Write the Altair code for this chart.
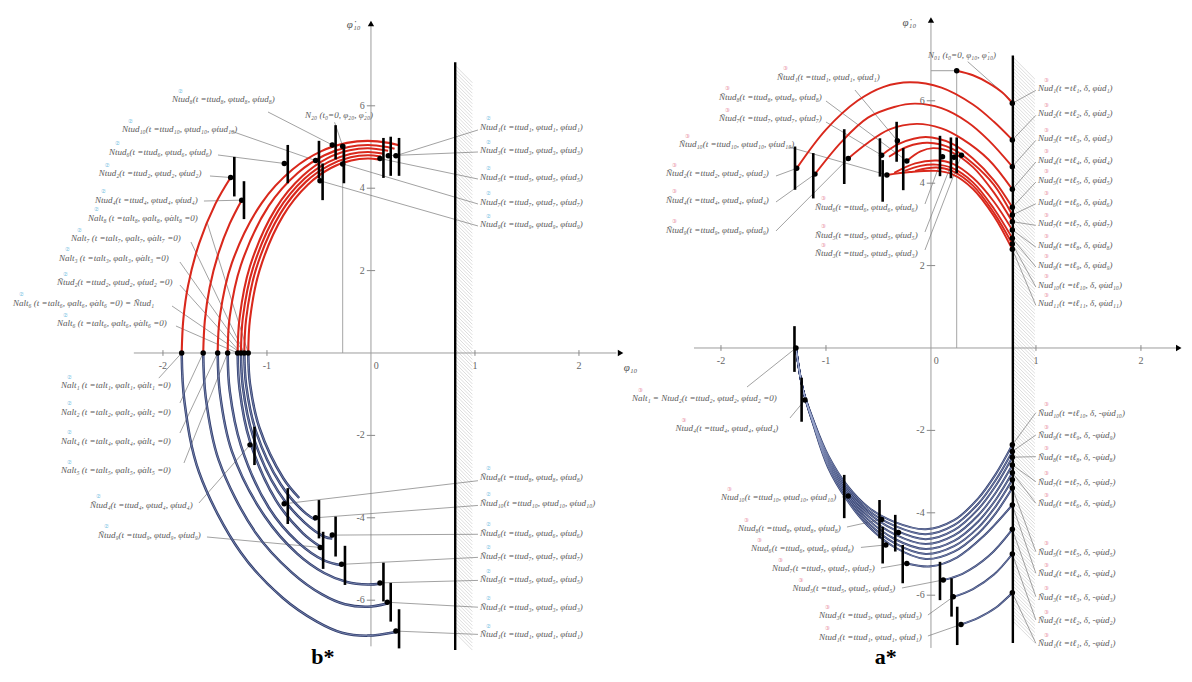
import altair as alt
import numpy as np
import pandas as pd

# ---------------- frames (data units of each panel) ----------------
L_XDOM = [-3.490, 2.683]
L_YDOM = [-7.743, 8.374]
R_XDOM = [-2.676, 2.410]
R_YDOM = [-7.864, 8.252]

FONT = "Liberation Serif"
RED = "#d9281c"
BLUE_D = "#2f3c6c"
BLUE_L = "#a3afd3"
LAB_COL = "#5a5a5a"

SUBS = str.maketrans("0123456789", "₀₁₂₃₄₅₆₇₈₉")
PHI = "φ"
PHID = "φ\u0307"


def sb(k):
    return str(k).translate(SUBS)


def tud(N, k, zero=False):
    s = sb(k)
    z = " =0" if zero else ""
    return f"{N}tud{s}(t =ttud{s}, {PHI}tud{s}, {PHID}tud{s}{z})"


def alt_lab(k, tail=""):
    s = sb(k)
    return f"Nalt{s} (t =talt{s}, {PHI}alt{s}, {PHID}alt{s} =0){tail}"


def ud_up(k):
    s = sb(k)
    return f"Nud{s}(t =tℓ{s}, δ, {PHID}ud{s})"


def ud_dn(k):
    s = sb(k)
    return f"Ñud{s}(t =tℓ{s}, δ, -{PHID}ud{s})"


# ================= LEFT PANEL (b*) =================
L_RED = [
    [(-1.82, 0), (-1.804, 0.82), (-1.759, 1.63), (-1.652, 2.66), (-1.496, 3.62), (-1.349, 4.26)],
    [(-1.613, 0), (-1.597, 0.80), (-1.551, 1.59), (-1.464, 2.44), (-1.358, 3.14), (-1.243, 3.71)],
    [(-1.474, 0), (-1.452, 0.90), (-1.338, 2.18), (-1.051, 3.64), (-0.752, 4.46), (-0.476, 4.90),
     (-0.231, 5.10), (-0.03, 5.15), (0.171, 5.10), (0.27, 5.04)],
    [(-1.378, 0), (-1.358, 0.88), (-1.251, 2.13), (-0.983, 3.57), (-0.704, 4.37), (-0.447, 4.80),
     (-0.217, 5.00), (-0.03, 5.05), (0.157, 5.00), (0.227, 4.96)],
    [(-1.282, 0), (-1.263, 0.86), (-1.164, 2.10), (-0.915, 3.51), (-0.656, 4.30), (-0.417, 4.73),
     (-0.204, 4.92), (-0.03, 4.97), (0.165, 4.91)],
    [(-1.25, 0), (-1.232, 0.85), (-1.135, 2.06), (-0.893, 3.45), (-0.64, 4.23), (-0.407, 4.64),
     (-0.2, 4.83), (-0.03, 4.88), (0.119, 4.84)],
    [(-1.218, 0), (-1.2, 0.83), (-1.106, 2.03), (-0.87, 3.39), (-0.624, 4.16), (-0.397, 4.56),
     (-0.195, 4.75), (-0.03, 4.80), (0.095, 4.77)],
    [(-1.18, 0), (-1.163, 0.82), (-1.072, 2.0), (-0.843, 3.34), (-0.605, 4.09), (-0.385, 4.49),
     (-0.19, 4.67), (-0.03, 4.72), (0.07, 4.70)],
]
L_BLUE = [
    [(-1.82, 0), (-1.793, -1.19), (-1.652, -2.90), (-1.25, -4.85), (-0.85, -5.94), (-0.52, -6.52),
     (-0.279, -6.79), (-0.03, -6.86), (0.24, -6.77)],
    [(-1.613, 0), (-1.589, -1.07), (-1.464, -2.60), (-1.11, -4.36), (-0.76, -5.33), (-0.47, -5.86),
     (-0.25, -6.10), (-0.03, -6.16), (0.157, -6.08)],
    [(-1.474, 0), (-1.452, -0.98), (-1.338, -2.38), (-1.02, -3.97), (-0.71, -4.87), (-0.45, -5.34),
     (-0.231, -5.56), (-0.03, -5.62), (0.087, -5.60)],
    [(-1.378, 0), (-1.358, -0.92), (-1.251, -2.24), (-0.983, -3.75), (-0.704, -4.59), (-0.447, -5.04),
     (-0.282, -5.15)],
    [(-1.282, 0), (-1.263, -0.88), (-1.164, -2.14), (-0.915, -3.57), (-0.656, -4.37), (-0.487, -4.70)],
    [(-1.25, 0), (-1.232, -0.82), (-1.135, -2.01), (-0.893, -3.36), (-0.64, -4.11), (-0.447, -4.46),
     (-0.372, -4.50)],
    [(-1.218, 0), (-1.2, -0.78), (-1.106, -1.90), (-0.87, -3.18), (-0.624, -3.90), (-0.532, -4.05)],
    [(-1.18, 0), (-1.163, -0.75), (-1.072, -1.82), (-0.843, -3.04), (-0.69, -3.52)],
]
L_DOTS = [
    (-1.349, 4.26), (-1.243, 3.71), (-0.833, 4.60), (-0.532, 4.67), (-0.49, 4.18), (-0.372, 5.05),
    (-0.272, 5.02), (-0.272, 4.59), (0.087, 4.72), (0.167, 4.79), (0.24, 4.79),
    (-1.82, 0), (-1.613, 0), (-1.474, 0), (-1.378, 0), (-1.282, 0), (-1.25, 0), (-1.218, 0), (-1.18, 0),
    (-1.163, -2.23), (-0.834, -3.66), (-0.532, -4.0), (-0.372, -4.42), (-0.487, -4.72), (-0.282, -5.13),
    (0.087, -5.58), (0.157, -6.05), (0.24, -6.75),
]
L_BARS = [
    (-1.314, 4.76, 3.80), (-1.221, 4.17, 3.25), (-0.80, 5.05, 4.12), (-0.50, 5.15, 4.24),
    (-0.465, 4.60, 3.71), (-0.34, 5.53, 4.70), (-0.26, 5.05, 4.12), (0.12, 5.22, 4.25),
    (0.19, 5.25, 4.30), (0.27, 5.22, 4.30),
    (-1.12, -1.79, -2.72), (-0.80, -3.28, -4.15), (-0.50, -3.57, -4.50), (-0.34, -3.97, -4.94),
    (-0.46, -4.34, -5.24), (-0.25, -4.68, -5.63), (0.12, -5.09, -6.03), (0.19, -5.58, -6.52),
    (0.27, -6.22, -7.17),
]
L_LABELS = [
    (-1.913, 6.165, tud("N", 8), True),
    (-0.635, 5.777, "N₂₀ (t₀=0, φ₂₀, φ\u0307₂₀)", False),
    (-2.394, 5.437, tud("N", 10), True),
    (-2.519, 4.886, tud("N", 6), True),
    (-2.618, 4.36, tud("N", 2), True),
    (-2.654, 3.714, tud("N", 4), True),
    (-2.721, 3.277, alt_lab(8), True),
    (-2.885, 2.791, alt_lab(7), True),
    (-3.0, 2.306, alt_lab(3), True),
    (-3.019, 1.723, tud("Ñ", 2, zero=True), True),
    (-3.442, 1.214, alt_lab(6, " = Ñtud₁"), True),
    (-3.019, 0.728, alt_lab(6), True),
    (-2.981, -0.777, alt_lab(1), True),
    (-2.981, -1.425, alt_lab(2), True),
    (-2.981, -2.136, alt_lab(4), True),
    (-2.981, -2.84, alt_lab(5), True),
    (-2.702, -3.689, tud("Ñ", 4), True),
    (-2.625, -4.417, tud("Ñ", 9), True),
    (1.048, 5.493, tud("N", 1), True),
    (1.048, 4.927, tud("N", 3), True),
    (1.048, 4.279, tud("N", 5), True),
    (1.048, 3.672, tud("N", 7), True),
    (1.048, 3.124, tud("N", 9), True),
    (1.048, -3.002, tud("Ñ", 8), True),
    (1.048, -3.633, tud("Ñ", 10), True),
    (1.048, -4.362, tud("Ñ", 6), True),
    (1.048, -4.927, tud("Ñ", 7), True),
    (1.048, -5.493, tud("Ñ", 5), True),
    (1.048, -6.158, tud("Ñ", 3), True),
    (1.048, -6.828, tud("Ñ", 1), True),
]
L_LEADERS = [
    (-0.99, 5.85, -0.372, 5.05), (-0.35, 5.6, -0.272, 5.02), (-1.346, 5.388, -0.532, 4.67),
    (-1.471, 4.806, -0.833, 4.60), (-1.548, 4.296, -1.349, 4.26), (-1.606, 3.689, -1.243, 3.71),
    (-1.577, 3.18, -1.18, 0), (-1.731, 2.694, -1.218, 0), (-1.837, 2.209, -1.218, 0),
    (-1.837, 1.65, -1.25, 0), (-1.913, 1.141, -1.25, 0), (-1.875, 0.655, -1.282, 0),
    (-2.04, -0.61, -1.82, 0), (-1.837, -1.214, -1.613, 0), (-1.837, -1.942, -1.474, 0),
    (-1.798, -2.67, -1.378, 0), (-1.654, -3.641, -1.163, -2.23), (-1.577, -4.466, -0.487, -4.72),
    (1.029, 5.413, 0.24, 4.79), (1.029, 4.879, 0.167, 4.79), (1.029, 4.223, 0.087, 4.72),
    (1.029, 3.617, -0.272, 4.59), (1.029, 3.083, -0.49, 4.18),
    (1.029, -3.10, -0.834, -3.66), (1.029, -3.70, -0.532, -4.0), (1.029, -4.40, -0.372, -4.42),
    (1.029, -4.96, -0.282, -5.13), (1.029, -5.52, 0.087, -5.58), (1.029, -6.17, 0.157, -6.05),
    (1.029, -6.83, 0.24, -6.75),
]
L_WALL = (0.81, -7.21, 7.06)
L_HATCH_X = (0.81, 0.975)
L_AXES = [(-2.28, 0, 2.36, 0), (0, -7.12, 0, 7.95)]
L_PROJ = [(-0.272, 5.02, -0.272, 0)]
L_ARROW_R = [(2.40, 0)]
L_ARROW_U = [(0, 8.0)]
L_AXTITLE_R = [(-0.1, 7.95, "φ\u0307₁₀")]
L_AXTITLE_L = [(2.43, -0.22, "φ₁₀")]
L_TITLE = [(-0.462, -7.67, "b*")]
L_RING = "②"

# ================= RIGHT PANEL (a*) =================
R_RED = [
    [(0.245, 6.73), (0.40, 6.62), (0.55, 6.43), (0.68, 6.2), (0.775, 5.94)],
    [(-1.279, 4.36), (-1.0, 5.30), (-0.7, 6.0), (-0.45, 6.34), (-0.2, 6.45), (0.1, 6.32), (0.4, 5.91),
     (0.6, 5.49), (0.775, 5.05)],
    [(-1.105, 4.22), (-0.85, 5.01), (-0.6, 5.59), (-0.35, 5.85), (-0.15, 5.93), (0.1, 5.82), (0.35, 5.48),
     (0.55, 5.04), (0.775, 4.40)],
    [(-0.788, 4.60), (-0.6, 4.98), (-0.4, 5.30), (-0.136, 5.44), (0.1, 5.33), (0.3, 5.07), (0.55, 4.57),
     (0.775, 3.85)],
    [(-0.47, 4.68), (-0.3, 4.96), (-0.05, 5.12), (0.2, 4.96), (0.4, 4.60), (0.6, 4.07), (0.775, 3.415)],
    [(-0.40, 4.64), (-0.22, 4.89), (-0.03, 4.98), (0.2, 4.84), (0.4, 4.48), (0.6, 3.96), (0.775, 3.228)],
    [(-0.23, 4.54), (-0.1, 4.77), (0.02, 4.85), (0.2, 4.75), (0.4, 4.39), (0.6, 3.77), (0.775, 3.066)],
    [(-0.35, 4.25), (-0.15, 4.48), (0.05, 4.55), (0.2, 4.48), (0.4, 4.13), (0.6, 3.55), (0.775, 2.864)],
    [(-0.25, 4.30), (-0.1, 4.42), (0.05, 4.45), (0.2, 4.37), (0.4, 4.02), (0.6, 3.38), (0.775, 2.663)],
    [(-0.15, 4.30), (0.05, 4.38), (0.2, 4.30), (0.4, 3.94), (0.6, 3.28), (0.775, 2.524)],
    [(-0.42, 4.20), (-0.2, 4.27), (0.05, 4.30), (0.2, 4.22), (0.4, 3.86), (0.6, 3.20), (0.775, 2.396)],
]
R_BUNDLE_X = [-1.286, -1.22, -1.12, -0.98, -0.8, -0.6, -0.35, -0.05, 0.22, 0.45, 0.62, 0.775]
R_BUNDLE_Y = [
    [0, -1.0, -1.75, -2.60, -3.33, -3.86, -4.22, -4.40, -4.18, -3.65, -3.05, -2.35],
    [0, -1.0, -1.77, -2.65, -3.38, -3.93, -4.31, -4.52, -4.30, -3.78, -3.19, -2.51],
    [0, -1.0, -1.79, -2.70, -3.44, -4.00, -4.41, -4.64, -4.42, -3.91, -3.33, -2.65],
    [0, -1.0, -1.81, -2.75, -3.50, -4.08, -4.52, -4.76, -4.55, -4.06, -3.50, -2.84],
    [0, -1.0, -1.83, -2.80, -3.56, -4.16, -4.63, -4.88, -4.68, -4.21, -3.67, -3.03],
    [0, -1.0, -1.85, -2.85, -3.62, -4.24, -4.73, -5.00, -4.81, -4.36, -3.83, -3.20],
    [0, -1.0, -1.87, -2.90, -3.69, -4.32, -4.83, -5.12, -4.94, -4.50, -4.00, -3.40],
]
R_LOWER = [
    [(-0.23, -5.23), (0.0, -5.30), (0.25, -5.08), (0.5, -4.57), (0.775, -3.81)],
    [(0.117, -5.63), (0.3, -5.48), (0.55, -5.05), (0.775, -4.40)],
    [(0.212, -6.04), (0.4, -5.85), (0.6, -5.5), (0.775, -5.0)],
    [(0.286, -6.71), (0.45, -6.55), (0.62, -6.3), (0.775, -5.94)],
]
R_WALL_RED_Y = [5.939, 5.049, 4.401, 3.852, 3.415, 3.228, 3.066, 2.864, 2.663, 2.524, 2.396]
R_WALL_BLUE_Y = [-2.35, -2.51, -2.65, -2.84, -3.03, -3.20, -3.40, -3.81, -4.40, -5.0, -5.94]
R_DOTS = [
    (0.245, 6.73),
    (-1.279, 4.36), (-1.105, 4.22), (-0.788, 4.60), (-0.47, 4.68), (-0.42, 4.20), (-0.32, 5.03),
    (-0.23, 4.54), (0.11, 4.64), (0.22, 4.63), (0.29, 4.68),
    (-1.286, 0),
    (-1.2, -1.26), (-0.788, -3.59), (-0.47, -4.16), (-0.31, -4.48), (-0.43, -4.78), (-0.23, -5.23),
    (0.117, -5.63), (0.212, -6.04), (0.286, -6.71),
]
R_BARS = [
    (-1.295, 4.89, 3.84), (-1.121, 4.73, 3.63), (-0.826, 5.31, 3.98), (-0.486, 5.09, 4.16),
    (-0.46, 4.56, 3.55), (-0.327, 5.49, 4.52), (-0.264, 4.85, 3.83), (0.086, 5.15, 4.17),
    (0.19, 5.11, 4.12), (0.245, 5.11, 4.24),
    (-1.30, 0.53, -0.58),
    (-1.232, -0.72, -1.79), (-0.826, -3.08, -4.13), (-0.49, -3.69, -4.62), (-0.34, -4.05, -4.94),
    (-0.46, -4.34, -5.23), (-0.269, -4.78, -5.71), (0.086, -5.19, -6.12), (0.196, -5.59, -6.52),
    (0.25, -6.28, -7.21),
]
R_WALL_UP_LAB_Y = [6.303, 5.697, 5.090, 4.563, 4.078, 3.551, 3.027, 2.5, 2.015, 1.529, 1.085]
R_WALL_DN_LAB_Y = [-1.570, -2.112, -2.638, -3.245, -3.769, -4.944, -5.468, -6.036, -6.602, -7.167]
R_WALL_DN_TARGET = [-2.35, -2.51, -2.65, -2.84, -3.03, -3.40, -3.81, -4.40, -5.0, -5.94]
R_LABELS = [
    (-0.029, 7.112, "N₀₁ (t₀=0, φ₁₀, φ\u0307₁₀)", False),
    (-1.467, 6.585, tud("Ñ", 1), True),
    (-2.019, 6.1, tud("Ñ", 8), True),
    (-2.019, 5.575, tud("Ñ", 7), True),
    (-2.4, 4.951, tud("Ñ", 10), True),
    (-2.524, 4.24, tud("Ñ", 2), True),
    (-2.524, 3.592, tud("Ñ", 4), True),
    (-2.524, 2.864, tud("Ñ", 9), True),
    (-1.105, 3.43, tud("Ñ", 6), True),
    (-1.105, 2.743, tud("Ñ", 5), True),
    (-1.105, 2.299, tud("Ñ", 3), True),
    (-2.848, -1.221, f"Nalt₁ = Ntud₂(t =ttud₂, {PHI}tud₂, {PHID}tud₂ =0)", True),
    (-2.433, -1.949, tud("N", 4), True),
    (-2.0, -3.624, tud("N", 10), True),
    (-1.838, -4.376, tud("N", 8), True),
    (-1.714, -4.862, tud("N", 6), True),
    (-1.514, -5.347, tud("N", 7), True),
    (-1.319, -5.833, tud("N", 5), True),
    (-1.067, -6.481, tud("N", 3), True),
    (-1.067, -7.007, tud("N", 1), True),
]
R_LEADERS = [
    (0.35, 6.95, 0.775, 5.99),
    (-0.724, 6.262, -0.32, 5.03), (-1.0, 5.995, -0.23, 4.54), (-1.0, 5.485, -0.47, 4.68),
    (-1.352, 4.879, -0.42, 4.20), (-1.476, 4.175, -1.279, 4.36), (-1.476, 3.544, -1.105, 4.22),
    (-1.476, 2.84, -0.788, 4.60), (-0.057, 3.495, 0.11, 4.64), (-0.057, 2.816, 0.22, 4.63),
    (-0.057, 2.379, 0.29, 4.68),
    (-1.752, -0.947, -1.286, 0), (-1.343, -1.699, -1.2, -1.26), (-0.848, -3.617, -0.788, -3.59),
    (-0.8, -4.345, -0.47, -4.16), (-0.667, -4.84, -0.43, -4.78), (-0.476, -5.34, -0.23, -5.23),
    (-0.276, -5.825, 0.117, -5.63), (-0.029, -6.481, 0.212, -6.04), (-0.029, -6.99, 0.286, -6.71),
]
R_WALL = (0.78, -7.16, 7.1)
R_HATCH_X = (0.78, 0.99)
R_WALL_X = 0.775
R_LABEL_X = 1.019
R_AXES = [(-2.257, 0, 2.35, 0), (0, -7.28, 0, 7.9), (0, 6.73, 0.245, 6.73)]
R_PROJ = [(0.245, 6.73, 0.245, 0)]
R_ARROW_R = [(2.36, 0)]
R_ARROW_U = [(0, 7.96)]
R_AXTITLE_R = [(-0.14, 7.9, "φ\u0307₁₀")]
R_TITLE = [(-0.43, -7.79, "a*")]
R_RING = "③"

XTICKS = [-2, -1, 0, 1, 2]
YTICKS = [-6, -4, -2, 2, 4, 6]


# ================= helpers =================
def curves_df(curves):
    rows = []
    for i, c in enumerate(curves):
        for j, (x, y) in enumerate(c):
            rows.append({"cid": i, "ord": j, "x": x, "y": y})
    return pd.DataFrame(rows)


def segs(rows):
    return pd.DataFrame(rows, columns=["x", "y", "x2", "y2"])


def hatch(xr, yb, yt, dy, step):
    ys = np.arange(yb + dy, yt + 1e-9, step)
    return segs([(xr[0], v, xr[1], v - dy) for v in ys])


def tick_rules(xt, yt, hx, hy):
    rows = [(t, -hy, t, hy) for t in xt if t != 0]
    rows += [(-hx, t, hx, t) for t in yt]
    return segs(rows)


def xtick_labels(xt, y0):
    return pd.DataFrame([(t + (0.05 if t == 0 else 0), y0, str(t)) for t in xt], columns=["x", "y", "t"])


def ytick_labels(yt, x0):
    return pd.DataFrame([(x0, t, str(t)) for t in yt], columns=["x", "y", "t"])


def texts(rows):
    return pd.DataFrame(rows, columns=["x", "y", "t"])


def panel(P, W, H, ring_col):
    xs = alt.Scale(domain=P["xdom"], nice=False, zero=False)
    ys = alt.Scale(domain=P["ydom"], nice=False, zero=False)
    X = alt.X("x:Q", scale=xs, axis=None)
    Y = alt.Y("y:Q", scale=ys, axis=None)

    def rule(df, **kw):
        return alt.Chart(df).mark_rule(**kw).encode(x=X, y=Y, x2="x2:Q", y2="y2:Q")

    def text(df, **kw):
        base = dict(font=FONT)
        base.update(kw)
        return alt.Chart(df).mark_text(**base).encode(x=X, y=Y, text="t:N")

    def lines(df, **kw):
        return alt.Chart(df).mark_line(interpolate="catmull-rom", **kw).encode(
            x=X, y=Y, detail="cid:N", order="ord:Q")

    L = [
        rule(P["hatch"], color="#c4c4c4", strokeWidth=0.6),
        rule(P["axes"], color="#9c9c9c", strokeWidth=1.0),
        rule(P["ticks"], color="#8a8a8a", strokeWidth=1.0),
        rule(P["proj"], color="#9c9c9c", strokeWidth=0.9),
        rule(P["leaders"], color="#7a7a7a", strokeWidth=0.7),
    ]
    cb = curves_df(P["blue"])
    L.append(lines(cb, color=BLUE_D, strokeWidth=P["bw"]))
    L.append(lines(cb, color=BLUE_L, strokeWidth=0.6))
    L.append(lines(curves_df(P["red"]), color=RED, strokeWidth=P["rw"]))
    L.append(rule(P["wall"], color="black", strokeWidth=2.4))
    L.append(alt.Chart(P["bars"]).mark_rule(color="black", strokeWidth=2.6).encode(x=X, y=Y, y2="y2:Q"))
    L.append(alt.Chart(P["dots"]).mark_circle(color="black", size=30, opacity=1).encode(x=X, y=Y))
    L.append(alt.Chart(P["arrow_r"]).mark_point(shape="triangle-right", filled=True, color="black",
                                                  size=40, opacity=1).encode(x=X, y=Y))
    L.append(alt.Chart(P["arrow_u"]).mark_point(shape="triangle-up", filled=True, color="black",
                                                  size=40, opacity=1).encode(x=X, y=Y))
    L.append(text(P["xtl"], fontSize=10, color="#666666", align="center", baseline="top"))
    L.append(text(P["ytl"], fontSize=10, color="#666666", align="right", baseline="middle"))
    L.append(text(P["axt_r"], fontSize=11, fontStyle="italic", color="#555555", align="right",
                  baseline="middle"))
    if P.get("axt_l") is not None:
        L.append(text(P["axt_l"], fontSize=11, fontStyle="italic", color="#555555", align="left",
                      baseline="top"))
    L.append(text(P["labels"], fontSize=9, fontStyle="italic", color=LAB_COL, align="left",
                  baseline="middle"))
    # small coloured circled digits, set as superscripts just above each N
    L.append(alt.Chart(P["rings"]).mark_text(font="DejaVu Sans", fontSize=5.5, color=ring_col,
                                               align="left", baseline="middle", dx=6,
                                               dy=-8.5).encode(x=X, y=Y, text="t:N"))
    L.append(text(P["title"], fontSize=22, fontWeight="bold", color="black", align="center",
                  baseline="bottom"))
    return alt.layer(*L).properties(width=W, height=H)


def label_frames(labels, ring):
    lab = pd.DataFrame([(x, y, t) for x, y, t, _ in labels], columns=["x", "y", "t"])
    rng = pd.DataFrame([(x, y, ring) for x, y, t, r in labels if r], columns=["x", "y", "t"])
    return lab, rng


# ---------------- assemble left ----------------
l_lab, l_rng = label_frames(L_LABELS, L_RING)
LP = {
    "xdom": L_XDOM, "ydom": L_YDOM,
    "hatch": hatch(L_HATCH_X, L_WALL[1], L_WALL[2], 0.417, 0.085),
    "axes": segs(L_AXES),
    "ticks": tick_rules(XTICKS, YTICKS, 0.04, 0.07),
    "proj": segs(L_PROJ),
    "leaders": segs(L_LEADERS),
    "blue": L_BLUE, "red": L_RED, "bw": 2.5, "rw": 2.1,
    "wall": segs([(L_WALL[0], L_WALL[1], L_WALL[0], L_WALL[2])]),
    "bars": pd.DataFrame(L_BARS, columns=["x", "y", "y2"]),
    "dots": pd.DataFrame(L_DOTS, columns=["x", "y"]),
    "arrow_r": pd.DataFrame(L_ARROW_R, columns=["x", "y"]),
    "arrow_u": pd.DataFrame(L_ARROW_U, columns=["x", "y"]),
    "xtl": xtick_labels(XTICKS, -0.2),
    "ytl": ytick_labels(YTICKS, -0.06),
    "axt_r": texts(L_AXTITLE_R),
    "axt_l": texts(L_AXTITLE_L),
    "labels": l_lab, "rings": l_rng,
    "title": texts(L_TITLE),
}

# ---------------- assemble right ----------------
r_labels = list(R_LABELS)
r_leaders = list(R_LEADERS)
for i, ly in enumerate(R_WALL_UP_LAB_Y):
    r_labels.append((R_LABEL_X, ly, ud_up(i + 1), True))
    r_leaders.append((R_LABEL_X - 0.02, ly - 0.05, R_WALL_X, R_WALL_RED_Y[i]))
for i, ly in enumerate(R_WALL_DN_LAB_Y):
    r_labels.append((R_LABEL_X, ly, ud_dn(10 - i), True))
    r_leaders.append((R_LABEL_X - 0.02, ly, R_WALL_X, R_WALL_DN_TARGET[i]))
r_lab, r_rng = label_frames(r_labels, R_RING)
r_blue = [list(zip(R_BUNDLE_X, ys)) for ys in R_BUNDLE_Y] + R_LOWER
r_dots = R_DOTS + [(R_WALL_X, v) for v in R_WALL_RED_Y] + [(R_WALL_X, v) for v in R_WALL_BLUE_Y]
RP = {
    "xdom": R_XDOM, "ydom": R_YDOM,
    "hatch": hatch(R_HATCH_X, R_WALL[1], R_WALL[2], 0.534, 0.085),
    "axes": segs(R_AXES),
    "ticks": tick_rules(XTICKS, YTICKS, 0.04, 0.07),
    "proj": segs(R_PROJ),
    "leaders": segs(r_leaders),
    "blue": r_blue, "red": R_RED, "bw": 2.0, "rw": 1.9,
    "wall": segs([(R_WALL[0], R_WALL[1], R_WALL[0], R_WALL[2])]),
    "bars": pd.DataFrame(R_BARS, columns=["x", "y", "y2"]),
    "dots": pd.DataFrame(r_dots, columns=["x", "y"]),
    "arrow_r": pd.DataFrame(R_ARROW_R, columns=["x", "y"]),
    "arrow_u": pd.DataFrame(R_ARROW_U, columns=["x", "y"]),
    "xtl": xtick_labels(XTICKS, -0.2),
    "ytl": ytick_labels(YTICKS, -0.06),
    "axt_r": texts(R_AXTITLE_R),
    "axt_l": None,
    "labels": r_lab, "rings": r_rng,
    "title": texts(R_TITLE),
}

left = panel(LP, 642, 664, "#5db3dc")
right = panel(RP, 534, 664, "#e8879b")

chart = (
    alt.hconcat(left, right, spacing=0, bounds="flush")
    .resolve_scale(x="independent", y="independent")
    .properties(padding=0)
    .configure_view(strokeWidth=0)
)
chart.save("out.html", embed_options={"renderer": "svg", "actions": False})
